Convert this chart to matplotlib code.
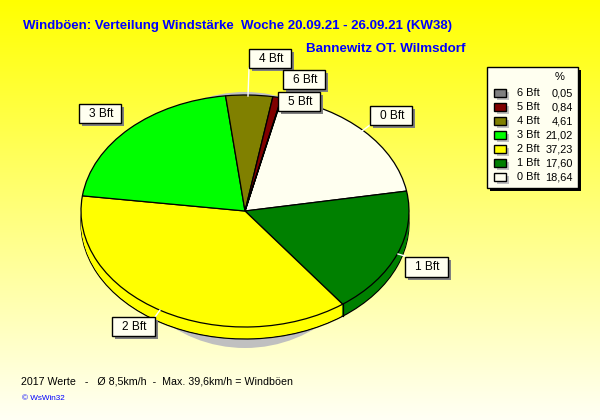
import numpy as np
import matplotlib
matplotlib.use('Agg')
import matplotlib.pyplot as plt
from matplotlib.patches import Rectangle, Ellipse

plt.rcParams['font.family'] = ['Liberation Sans', 'DejaVu Sans']

# legend order, top to bottom
CATEGORIES = ['6 Bft', '5 Bft', '4 Bft', '3 Bft', '2 Bft', '1 Bft', '0 Bft']
PERCENT = [0.05, 0.84, 4.61, 21.02, 37.23, 17.60, 18.64]
PERCENT_TEXT = ['0,05', '0,84', '4,61', '21,02', '37,23', '17,60', '18,64']
COLORS = ['#808080', '#800000', '#808000', '#00FF00', '#FFFF00', '#008000', '#FFFFF0']

TITLE = 'Windböen: Verteilung Windstärke  Woche 20.09.21 - 26.09.21 (KW38)'
SUBTITLE = 'Bannewitz OT. Wilmsdorf'
FOOTER = '2017 Werte   -   Ø 8,5km/h  -  Max. 39,6km/h = Windböen'

# pie geometry in pixels
CX, CY = 245, 211
RX, RY = 164, 116
DEPTH = 12
START_CW = 13  # degrees clockwise from 12 o'clock, where 0 Bft begins

# label boxes: left, top, width, height, leader line
LABEL_BOXES = {
    '4 Bft': (249, 49, 42, 19, [(249, 68), (248, 96)]),
    '6 Bft': (283, 70, 42, 19, None),
    '5 Bft': (278, 92, 42, 19, None),
    '3 Bft': (79, 104, 42, 19, None),
    '0 Bft': (370, 106, 42, 19, [(370, 125), (362, 131)]),
    '1 Bft': (405, 257, 43, 20, [(405, 256), (398, 254)]),
    '2 Bft': (112, 317, 43, 19, [(155, 317), (160, 310)]),
}


def add_box(ax, left, top, w, h, face, shadow, off=3, lw=1.0, z=5):
    ax.add_patch(Rectangle((left + off, top + off), w, h, fc=shadow, ec='none', zorder=z))
    ax.add_patch(Rectangle((left, top), w, h, fc=face, ec='black', lw=lw, zorder=z + 0.1))


fig = plt.figure(figsize=(6, 4.2), dpi=100)

# background gradient
bg = fig.add_axes([0, 0, 1, 1], zorder=0)
grad = np.ones((420, 1, 3))
grad[:, 0, 2] = np.linspace(0, 0.96, 420)
bg.imshow(grad, aspect='auto', extent=(0, 600, 420, 0))
bg.axis('off')

# pie axes: unit circle is stretched onto the ellipse
pie_ax = fig.add_axes([0, 0, 1, 1], zorder=1)
pie_ax.patch.set_alpha(0)
pie_values = PERCENT[::-1]
pie_colors = COLORS[::-1]
startangle = 90 - START_CW

# shadow
shadow_ax_center = (0, (CY - 220) / RY)
pie_ax.add_patch(Ellipse(shadow_ax_center, 2 * 132 / RX, 2 * 128 / RY, fc='#C0C0C0', ec='none', zorder=0))

# side wall: stack of pies going downwards, bottom one carries the outline
for d in range(DEPTH, 0, -1):
    edge = 'black' if d == DEPTH else 'none'
    wedges, _ = pie_ax.pie(pie_values, colors=pie_colors, startangle=startangle, counterclock=False,
                           center=(0, -d / RY), radius=1, normalize=True,
                           wedgeprops={'edgecolor': edge, 'linewidth': 0.9 if d == DEPTH else 0})
# top face
pie_ax.pie(pie_values, colors=pie_colors, startangle=startangle, counterclock=False,
           center=(0, 0), radius=1, normalize=True,
           wedgeprops={'edgecolor': 'black', 'linewidth': 0.9})

pie_ax.set_aspect('auto')
pie_ax.set_xlim(-CX / RX, (600 - CX) / RX)
pie_ax.set_ylim((CY - 420) / RY, CY / RY)
pie_ax.set_position([0, 0, 1, 1])
pie_ax.axis('off')

# edge on the wall between 2 Bft and 1 Bft
cum = np.cumsum(pie_values) / np.sum(pie_values)
theta = np.radians(startangle - 360 * cum[1])
pie_ax.plot([np.cos(theta)] * 2, [np.sin(theta), np.sin(theta) - DEPTH / RY], color='black', lw=0.9, zorder=20)

# overlay in pixel coordinates
ov = fig.add_axes([0, 0, 1, 1], zorder=2)
ov.patch.set_alpha(0)
ov.set_xlim(0, 600)
ov.set_ylim(420, 0)
ov.axis('off')

ov.text(23, 25.5, TITLE, color='#0000FF', fontsize=9.55, fontweight='bold', va='center', ha='left')
ov.text(305.5, 49, SUBTITLE, color='#0000FF', fontsize=9.65, fontweight='bold', va='center', ha='left')
ov.text(21, 382, FOOTER, color='black', fontsize=7.7, va='center', ha='left')
ov.text(22, 399, '© WsWin32', color='#0000FF', fontsize=5.9, va='center', ha='left')

# label boxes
for name, (left, top, w, h, leader) in LABEL_BOXES.items():
    if leader:
        ov.plot([leader[0][0], leader[1][0]], [leader[0][1], leader[1][1]], color='white', lw=1, zorder=4)
    add_box(ov, left, top, w, h, '#FFFFF0', '#808080')
    ov.text(left + w / 2 + 1, top + h / 2 + 0.5, name, fontsize=8.6, color='black', va='center', ha='center', zorder=6)

# legend
add_box(ov, 487, 67, 91, 121, '#FFFFF0', 'black')
ov.text(560, 77, '%', fontsize=8, va='center', ha='center', zorder=6)
for i, (name, txt, col) in enumerate(zip(CATEGORIES, PERCENT_TEXT, COLORS)):
    y = 93 + 14 * i
    add_box(ov, 494, y - 4, 12, 8, col, '#C0C0C0', z=6)
    ov.text(517, y, name, fontsize=7.9, va='center', ha='left', zorder=7)
    ov.text(573, y, txt, fontsize=7.9, va='center', ha='right', zorder=7)

fig.savefig('out.png', dpi=100)
